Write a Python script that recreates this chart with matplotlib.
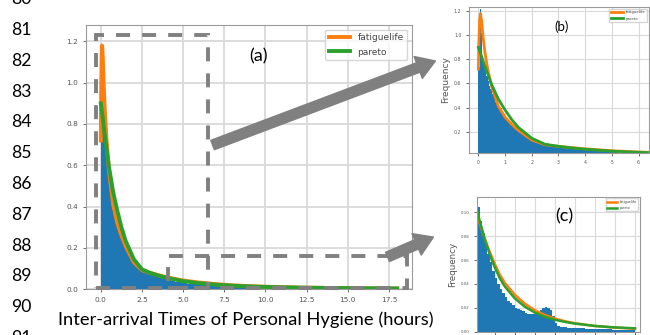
import matplotlib.pyplot as plt
import numpy as np
from matplotlib.patches import FancyArrowPatch, Rectangle

# inter-arrival times of personal hygiene (hours), density histogram
hist_edges = np.concatenate([np.linspace(0, 0.5, 11)[:-1],
                             np.linspace(0.5, 2.25, 15)[:-1],
                             np.linspace(2.25, 18.0, 64)])
hist_heights = [0.74, 1.22, 1.02, 0.80, 0.74, 0.70, 0.66, 0.62, 0.58, 0.55,
                0.51, 0.45, 0.40, 0.35, 0.31, 0.28, 0.25, 0.22, 0.20, 0.18, 0.16, 0.145, 0.132, 0.12,
                0.104, 0.093, 0.083, 0.073, 0.065, 0.058, 0.051, 0.045, 0.040, 0.036,
                0.032, 0.029, 0.026, 0.024, 0.022, 0.020, 0.019, 0.018, 0.017, 0.016,
                0.015, 0.0145, 0.0145, 0.015, 0.0165, 0.018, 0.0195, 0.0205, 0.020, 0.018,
                0.013, 0.007, 0.0045,
                0.004, 0.0038, 0.0036, 0.0034, 0.0032, 0.0031, 0.003, 0.0029, 0.0028, 0.0027,
                0.0026, 0.0025, 0.0024, 0.0024, 0.0023, 0.0022, 0.0021, 0.0021, 0.002, 0.0019,
                0.0019, 0.0018, 0.0017, 0.0017, 0.0016, 0.0015, 0.0015, 0.0014, 0.0013, 0.0012]

# fitted distributions (main plot and inset b)
fat_x = [0, 0.02, 0.05, 0.08, 0.12, 0.18, 0.25, 0.35, 0.5, 0.75, 1.0, 1.25, 1.5, 2.0, 2.5,
         3.0, 3.5, 4, 5, 6, 7, 8, 9, 10, 12, 14, 16, 18]
fat_y = [0.72, 0.95, 1.13, 1.18, 1.12, 0.98, 0.85, 0.72, 0.57, 0.41, 0.32, 0.26, 0.21, 0.13, 0.091,
         0.078, 0.067, 0.057, 0.041, 0.031, 0.0235, 0.018, 0.014, 0.011, 0.0071, 0.0048, 0.0034, 0.0025]
par_x = [0, 0.05, 0.1, 0.2, 0.3, 0.5, 0.75, 1.0, 1.25, 1.5, 2.0, 2.5, 3.0, 3.5, 4, 5, 6, 7, 8, 9,
         10, 12, 14, 16, 18]
par_y = [0.90, 0.87, 0.84, 0.77, 0.71, 0.59, 0.47, 0.38, 0.30, 0.235, 0.145, 0.095, 0.078, 0.065,
         0.054, 0.038, 0.028, 0.021, 0.016, 0.0125, 0.010, 0.0068, 0.0048, 0.0036, 0.0028]

c_x = [2.27, 2.5, 3.0, 3.5, 4, 4.5, 5, 6, 7, 8, 9, 10, 11, 12, 14, 16, 18]
c_fat = [0.097, 0.091, 0.078, 0.067, 0.057, 0.048, 0.041, 0.031, 0.0235, 0.018, 0.014, 0.011,
         0.0088, 0.0071, 0.0048, 0.0034, 0.0025]
c_par = [0.101, 0.093, 0.078, 0.065, 0.054, 0.045, 0.038, 0.028, 0.021, 0.016, 0.0125, 0.010,
         0.0082, 0.0068, 0.0048, 0.0036, 0.0028]

line_numbers = list(range(80, 92))

W, H = 650, 335
BLUE, ORANGE, GREEN, GREY = '#1f77b4', '#ff7f0e', '#2ca02c', '#808080'


def fx(px):
    return px / W


def fy(py):
    return 1 - py / H


def box(x0, y0, x1, y1):
    return [fx(x0), fy(y1), fx(x1) - fx(x0), fy(y0) - fy(y1)]


def style_axes(ax, tick_size, grid_lw):
    ax.grid(True, color='#d9d9d9', lw=grid_lw)
    ax.set_axisbelow(True)
    for s in ax.spines.values():
        s.set_color('#9a9a9a')
        s.set_linewidth(0.8)
    ax.tick_params(labelsize=tick_size, colors='#555555', length=2, width=0.6)


def draw_panel(ax, cx_f, cy_f, cx_p, cy_p, lw):
    ax.stairs(hist_heights, hist_edges, fill=True, color=BLUE, lw=0)
    ax.plot(cx_f, cy_f, color=ORANGE, lw=lw, label='fatiguelife')
    ax.plot(cx_p, cy_p, color=GREEN, lw=lw, label='pareto')


fig = plt.figure(figsize=(W / 100, H / 100), dpi=100)

# main plot (a)
ax = fig.add_axes(box(86, 25, 412, 289))
draw_panel(ax, fat_x, fat_y, par_x, par_y, 2.8)
ax.set_xlim(-0.9, 18.9)
ax.set_ylim(0, 1.28)
ax.set_xticks(np.arange(0, 18, 2.5))
ax.set_yticks(np.arange(0, 1.3, 0.2))
style_axes(ax, 5.3, 1.3)
ax.legend(loc='upper right', fontsize=6.5, labelspacing=0.6, handlelength=2.4,
          labelcolor='#444444', edgecolor='#cccccc')

# inset (b)
axb = fig.add_axes(box(469, 7, 649, 152.7))
draw_panel(axb, fat_x, fat_y, par_x, par_y, 2.0)
axb.set_xlim(-0.35, 6.39)
axb.set_ylim(0.025, 1.235)
axb.set_xticks(range(0, 7))
axb.set_yticks([0.2, 0.4, 0.6, 0.8, 1.0, 1.2])
style_axes(axb, 3.3, 0.8)
axb.set_ylabel('Frequency', fontsize=6.5, color='#555555', labelpad=3)
axb.legend(loc='upper right', fontsize=2.8, labelspacing=0.6, handlelength=3,
           labelcolor='#444444', edgecolor='#cccccc')

# inset (c), its x tick labels fall below the picture
axc = fig.add_axes(box(477.3, 196.7, 640, 331.7))
axc.stairs(hist_heights, hist_edges, fill=True, color=BLUE, lw=0)
axc.plot(c_x, c_fat, color=ORANGE, lw=1.8, label='fatiguelife')
axc.plot(c_x, c_par, color=GREEN, lw=1.8, label='pareto')
axc.set_xlim(2.27, 18.5)
axc.set_ylim(0, 0.113)
axc.set_xticks(range(4, 19, 2))
axc.set_yticks([0, 0.02, 0.04, 0.06, 0.08, 0.10])
axc.yaxis.set_major_formatter(plt.FormatStrFormatter('%.2f'))
style_axes(axc, 2.8, 0.8)
axc.tick_params(axis='x', labelbottom=False)
axc.set_ylabel('Frequency', fontsize=6.3, color='#555555', labelpad=3)
axc.legend(loc='upper right', fontsize=2.4, labelspacing=0.6, handlelength=3,
           labelcolor='#444444', edgecolor='#cccccc')

# panel labels, x label, line numbers
fig.text(fx(258), fy(56), '(a)', family='Lato', fontsize=13, ha='center', va='center')
fig.text(fx(562), fy(27), '(b)', family='Lato', fontsize=9.5, ha='center', va='center')
fig.text(fx(564), fy(216.5), '(c)', family='Lato', fontsize=13, ha='center', va='center')
fig.text(fx(246), fy(320), 'Inter-arrival Times of Personal Hygiene (hours)', family='Lato',
         fontsize=13.2, ha='center', va='center')
for i, n in enumerate(line_numbers):
    fig.text(fx(32), fy(-0.8 + 30.8 * i), str(n), family='Lato', fontsize=12.7,
             ha='right', va='center')

# dashed zoom boxes and arrows
dash = dict(fill=False, ls=(0, (3.6, 3.1)), lw=2.8, ec=GREY, transform=fig.transFigure)
fig.add_artist(Rectangle((fx(96), fy(288)), fx(208) - fx(96), fy(35) - fy(288), **dash))
fig.add_artist(Rectangle((fx(168), fy(288)), fx(407) - fx(168), fy(256) - fy(288), **dash))

arrow = dict(transform=fig.transFigure, color=GREY, mutation_scale=12,
             arrowstyle='simple,head_width=1.4,head_length=1.1,tail_width=0.6')
fig.add_artist(FancyArrowPatch((fx(210), fy(146)), (fx(438), fy(60)), **arrow))
fig.add_artist(FancyArrowPatch((fx(385), fy(258)), (fx(436), fy(236)), **arrow))

fig.savefig('out.png', dpi=100)
